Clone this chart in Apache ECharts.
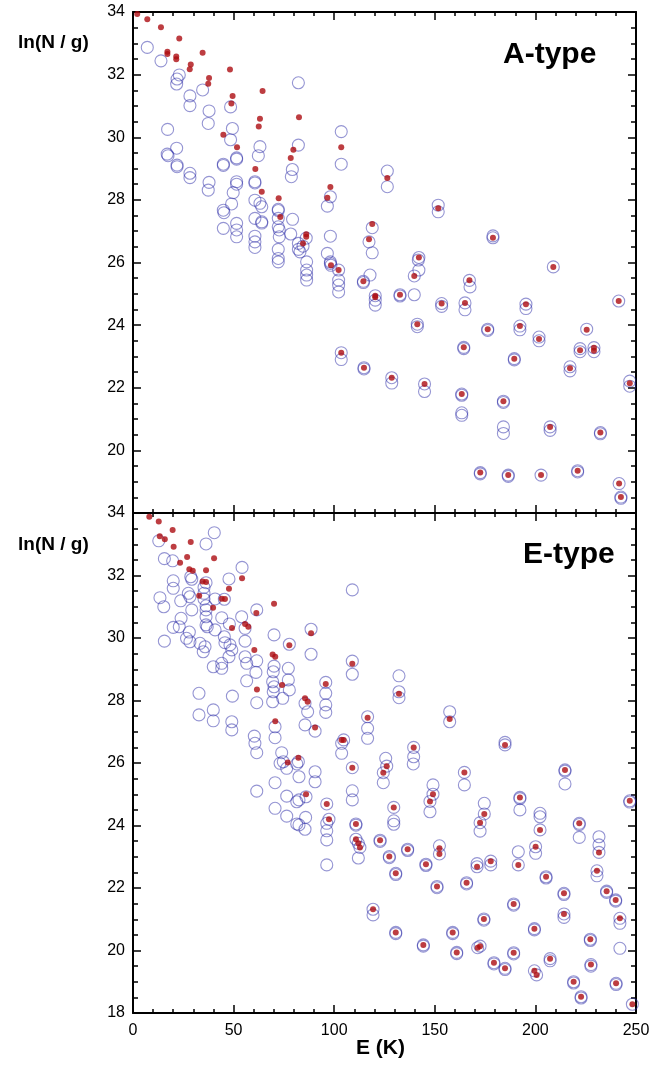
<!DOCTYPE html>
<html>
<head>
<meta charset="utf-8">
<script src="https://cdn.jsdelivr.net/npm/echarts@6/dist/echarts.min.js"></script>
<style>
html,body{margin:0;padding:0;background:#fff;}
#chart{width:667px;height:1075px;}
</style>
</head>
<body>
<div id="chart"></div>
<script>
// ---- Data: [E (K), ln(N/g)] ----
const xTicks = [0, 50, 100, 150, 200, 250];
const yTicks = [18, 20, 22, 24, 26, 28, 30, 32, 34];

const aTypeCircles = [
[7.1,32.87],[13.9,32.44],[23.0,31.99],[21.9,31.86],[21.7,31.70],[28.3,31.32],[28.3,31.01],[34.6,31.51],[37.8,30.84],[37.4,30.44],[48.5,30.97],[49.4,30.28],[48.5,29.92],[17.2,30.25],[21.7,29.65],[17.0,29.46],[17.4,29.41],[21.9,29.11],[21.9,29.06],[28.3,28.85],[28.3,28.71],[37.8,28.56],[37.4,28.31],[44.9,29.14],[44.9,29.10],[51.5,29.34],[51.5,29.30],[51.5,28.58],[51.5,28.50],[49.8,28.23],[49.0,27.87],[44.9,27.67],[45.2,27.59],[44.9,27.09],[51.5,27.25],[51.5,27.04],[51.5,26.82],[60.6,28.58],[60.6,28.54],[60.6,27.99],[63.1,27.89],[64.0,27.78],[60.6,27.41],[64.0,27.30],[64.0,27.26],[60.6,26.84],[60.6,26.66],[60.6,26.48],[63.1,29.70],[62.3,29.41],[79.2,28.97],[78.7,28.74],[82.2,29.75],[82.2,31.74],[72.2,27.70],[72.2,27.66],[72.2,27.41],[72.2,27.14],[72.7,27.04],[72.7,26.82],[72.2,26.42],[72.2,26.13],[72.2,26.02],[79.3,27.38],[78.4,26.91],[82.2,26.61],[82.2,26.42],[103.5,30.18],[103.5,29.14],[98.1,28.10],[96.6,27.80],[126.4,28.92],[126.4,28.42],[151.7,27.83],[151.7,27.62],[118.9,27.11],[117.3,26.66],[118.9,26.31],[86.1,26.78],[84.5,26.52],[83.0,26.34],[98.1,26.84],[96.6,26.29],[142.1,26.16],[98.1,26.02],[98.1,25.97],[86.3,26.02],[86.3,25.76],[86.3,25.60],[86.3,25.44],[98.4,25.91],[102.2,25.76],[102.2,25.44],[102.2,25.28],[102.2,25.06],[114.5,25.40],[114.5,25.36],[117.8,25.60],[120.4,24.94],[120.4,24.80],[120.4,24.64],[132.7,24.97],[132.7,24.93],[139.8,24.97],[139.8,25.57],[142.1,25.76],[141.8,26.08],[141.3,24.03],[141.3,23.95],[153.4,24.69],[153.4,24.60],[165.0,24.71],[165.0,24.49],[167.2,25.43],[167.5,25.22],[103.5,23.12],[103.5,22.90],[114.8,22.64],[114.8,22.60],[128.6,22.32],[128.6,22.15],[144.9,22.12],[144.9,21.88],[164.4,23.29],[164.4,23.25],[163.4,21.80],[163.4,21.76],[163.4,21.20],[163.4,21.12],[208.9,25.86],[195.3,24.67],[195.3,24.53],[241.4,24.77],[176.3,23.87],[176.3,23.83],[192.3,23.97],[192.3,23.85],[201.8,23.62],[201.8,23.50],[225.5,23.87],[222.2,23.25],[222.2,23.15],[229.1,23.28],[229.1,23.15],[189.5,22.93],[189.5,22.89],[217.2,22.67],[217.2,22.54],[246.9,22.21],[246.9,22.05],[184.1,21.57],[184.1,21.53],[184.1,20.75],[184.1,20.54],[207.3,20.75],[207.3,20.64],[232.3,20.57],[232.3,20.53],[172.6,19.29],[172.6,19.25],[186.5,19.21],[186.5,19.17],[202.8,19.21],[221.0,19.35],[221.0,19.31],[241.6,18.94],[242.5,18.51],[242.5,18.47],[178.9,26.79],[178.9,26.85]
];
const aTypeDots = [
[2.1,33.94],[7.1,33.77],[13.9,33.51],[23.0,33.15],[17.1,32.73],[17.1,32.66],[21.5,32.58],[21.5,32.49],[34.6,32.70],[28.7,32.32],[28.2,32.17],[48.2,32.16],[37.8,31.89],[37.4,31.71],[64.4,31.48],[49.5,31.32],[48.9,31.08],[82.5,30.64],[63.1,30.59],[62.5,30.34],[44.9,30.08],[51.7,29.68],[79.7,29.60],[78.4,29.34],[60.8,28.99],[64.0,28.26],[72.4,28.05],[73.2,27.45],[103.5,29.68],[98.1,28.41],[96.6,28.07],[126.4,28.70],[151.7,27.73],[118.9,27.23],[117.3,26.74],[86.1,26.90],[86.1,26.82],[84.5,26.61],[142.1,26.16],[178.9,26.79],[98.4,25.91],[102.2,25.76],[114.5,25.40],[120.4,24.94],[120.4,24.89],[132.7,24.97],[139.8,25.57],[153.4,24.69],[165.0,24.71],[167.2,25.43],[141.3,24.03],[103.5,23.12],[114.8,22.64],[128.6,22.32],[144.9,22.12],[164.4,23.29],[163.4,21.80],[208.9,25.86],[195.3,24.67],[241.4,24.77],[176.3,23.87],[192.3,23.97],[201.8,23.56],[225.5,23.85],[222.2,23.20],[229.1,23.28],[229.1,23.18],[189.5,22.93],[217.2,22.62],[246.9,22.14],[184.1,21.57],[207.3,20.75],[232.3,20.57],[172.6,19.29],[186.5,19.21],[202.8,19.21],[221.0,19.35],[241.6,18.94],[242.5,18.51]
];
const eTypeCircles = [
[40.4,33.37],[36.3,33.01],[12.8,33.11],[15.6,32.54],[19.7,32.47],[54.2,32.26],[28.7,31.96],[29.2,31.88],[20.0,31.83],[20.0,31.59],[36.3,31.77],[35.3,31.62],[47.7,31.89],[13.4,31.29],[15.3,31.00],[23.7,31.19],[27.5,31.43],[28.3,31.32],[35.3,31.43],[35.3,31.25],[40.8,31.25],[45.4,31.24],[36.3,31.03],[36.3,30.90],[36.3,30.68],[29.2,30.90],[23.9,30.63],[20.0,30.34],[23.0,30.36],[44.1,30.65],[36.3,30.42],[36.9,30.36],[47.9,30.45],[54.0,30.68],[55.7,30.31],[61.5,30.90],[40.8,30.26],[28.0,30.19],[15.6,29.90],[26.6,29.99],[28.3,29.88],[33.3,29.83],[35.8,29.72],[34.9,29.56],[45.4,30.04],[45.7,29.85],[48.2,29.78],[49.1,29.62],[47.7,29.40],[55.7,29.90],[70.1,30.10],[77.7,29.80],[55.7,29.40],[56.5,29.19],[61.5,29.27],[61.1,28.90],[39.9,29.08],[44.1,29.19],[44.1,29.03],[56.5,28.63],[70.1,29.10],[69.7,28.92],[69.4,28.60],[70.1,28.44],[69.7,28.28],[77.2,29.03],[77.2,28.66],[77.7,28.34],[74.4,28.07],[69.4,27.96],[61.5,27.93],[49.4,28.14],[32.8,28.23],[32.8,27.54],[39.9,27.70],[39.9,27.35],[49.1,27.32],[49.1,27.06],[70.6,27.16],[70.6,26.81],[60.3,26.86],[60.6,26.63],[61.5,26.33],[73.9,26.33],[74.7,26.04],[82.2,26.04],
[73.1,25.99],[76.4,25.83],[81.4,25.97],[70.6,25.37],[61.5,25.10],[76.4,24.94],[81.4,24.76],[70.6,24.55],[76.4,24.30],[81.4,24.05],
[109.0,31.54],[88.5,30.28],[88.5,29.48],[109.0,29.26],[109.0,28.84],[132.2,28.79],[132.2,28.28],[132.2,28.09],[95.8,28.58],[95.8,28.23],[95.8,27.86],[95.8,27.62],[85.5,27.91],[86.8,27.64],[85.5,27.22],[90.5,27.02],[116.6,27.48],[116.6,27.11],[116.6,26.79],[157.4,27.64],[157.4,27.32],[104.7,26.74],[103.7,26.63],[103.7,26.31],[139.5,26.50],[139.5,26.20],[125.6,26.15],
[109.0,25.85],[126.1,25.90],[124.4,25.69],[124.4,25.37],[139.3,25.97],[164.7,25.70],[164.7,25.30],[82.5,25.56],[90.5,25.72],[90.5,25.40],[82.5,24.82],[86.0,24.92],[96.3,24.69],[96.3,24.07],[96.3,23.83],[96.3,23.54],[85.8,24.26],[85.5,23.88],[82.5,24.02],[97.4,24.20],[109.0,25.11],[109.0,24.82],[129.6,24.58],[129.6,24.15],[129.6,24.04],[149.1,25.30],[149.1,25.00],[147.6,24.77],[147.6,24.44],[110.8,24.05],[110.8,24.01],[110.8,23.56],[112.0,23.43],[112.8,23.30],[112.0,22.96],[96.3,22.74],[122.8,23.53],[122.8,23.49],[127.4,23.01],[127.4,22.97],[136.5,23.24],[136.5,23.20],[152.3,23.35],[152.3,23.09],[145.6,22.76],[145.6,22.72],[130.6,22.47],[130.6,22.43],[151.1,22.05],[151.1,22.01],[165.8,22.17],[165.8,22.13],[119.3,21.32],[119.3,21.14],[130.6,20.58],[130.6,20.54],[144.3,20.18],[144.3,20.14],[158.9,20.58],[158.9,20.54],[160.9,19.94],[160.9,19.90],
[214.7,25.78],[214.7,25.74],[214.7,25.33],[192.3,24.90],[192.3,24.86],[192.3,24.50],[174.6,24.71],[174.6,24.37],[172.5,24.09],[172.5,23.82],[202.3,24.39],[202.3,24.28],[202.3,23.86],[221.8,24.07],[221.8,24.03],[221.8,23.62],[191.5,23.16],[191.5,22.74],[200.1,23.32],[200.1,23.11],[231.6,23.64],[231.6,23.38],[231.6,23.14],[230.6,22.55],[230.6,22.39],[171.0,22.78],[171.0,22.68],[177.8,22.86],[177.8,22.74],[205.3,22.36],[205.3,22.32],[214.2,21.83],[214.2,21.79],[235.4,21.90],[235.4,21.86],[239.9,21.62],[239.9,21.58],[189.2,21.49],[189.2,21.45],[214.2,21.17],[214.2,21.06],[242.0,21.03],[242.0,20.87],[242.0,20.07],[174.4,21.01],[174.4,20.97],[199.5,20.70],[199.5,20.66],[227.3,20.36],[227.3,20.32],[171.3,20.09],[172.5,20.14],[189.2,19.93],[189.2,19.89],[179.4,19.61],[179.4,19.57],[184.9,19.43],[184.9,19.39],[207.3,19.74],[207.3,19.67],[199.5,19.35],[200.6,19.22],[227.6,19.55],[227.6,19.50],[219.0,19.00],[219.0,18.96],[240.1,18.95],[240.1,18.91],[222.7,18.52],[222.7,18.48],[248.2,18.28],[246.9,24.79],[246.9,24.75],[184.9,26.58],[184.9,26.66]
];
const eTypeDots = [
[8.1,33.88],[12.8,33.73],[19.7,33.46],[13.3,33.26],[15.8,33.16],[28.7,33.07],[20.2,32.92],[26.9,32.59],[40.3,32.55],[23.4,32.41],[28.0,32.20],[29.7,32.15],[36.3,32.17],[54.2,31.91],[34.6,31.81],[36.3,31.79],[47.7,31.58],[32.9,31.35],[44.1,31.26],[45.7,31.25],[39.8,30.97],[70.1,31.10],[61.3,30.80],[55.7,30.45],[57.3,30.36],[49.2,30.32],[77.7,29.77],[60.3,29.62],[69.4,29.47],[70.7,29.40],[74.1,28.50],[61.6,28.35],[70.7,27.34],[76.9,26.02],[82.2,26.17],[88.5,30.15],[109.0,29.18],[95.8,28.53],[85.5,28.07],[86.8,27.96],[132.2,28.22],[90.5,27.14],[116.6,27.45],[157.4,27.41],[104.7,26.74],[103.7,26.74],[139.5,26.50],[184.9,26.58],[109.0,25.85],[126.1,25.90],[124.4,25.69],[164.7,25.70],[86.0,25.00],[96.3,24.69],[97.4,24.20],[149.1,25.00],[147.6,24.77],[129.6,24.58],[110.8,24.05],[110.8,23.56],[112.0,23.43],[112.8,23.30],[122.8,23.53],[127.4,23.01],[136.5,23.24],[152.3,23.27],[152.3,23.09],[145.6,22.76],[130.6,22.47],[151.1,22.05],[165.8,22.17],[119.3,21.32],[130.6,20.58],[144.3,20.18],[158.9,20.58],[160.9,19.94],[214.7,25.78],[246.9,24.79],[192.3,24.90],[174.6,24.37],[172.5,24.09],[202.3,23.86],[221.8,24.07],[200.1,23.32],[231.6,23.14],[171.0,22.68],[177.8,22.86],[191.5,22.74],[230.6,22.55],[205.3,22.36],[214.2,21.83],[235.4,21.90],[239.9,21.62],[189.2,21.49],[214.2,21.17],[242.0,21.03],[174.4,21.01],[199.5,20.70],[227.3,20.36],[171.3,20.09],[172.5,20.14],[189.2,19.93],[179.4,19.61],[184.9,19.43],[207.3,19.74],[199.5,19.35],[200.6,19.22],[227.6,19.55],[219.0,19.00],[240.1,18.95],[222.7,18.52],[248.2,18.28]
];

// ---- Chart ----
const FONT = '"Liberation Sans", Arial, Helvetica, sans-serif';
const xMin = xTicks[0], xMax = xTicks[xTicks.length - 1];
const yMin = yTicks[0], yMax = yTicks[yTicks.length - 1];
const lineStyle = { color: '#000', width: 2 };

function xAx(grid, pos, showLabel) {
  return {
    type: 'value', gridIndex: grid, position: pos, min: xMin, max: xMax, interval: 50,
    axisLine: { show: true, onZero: false, lineStyle },
    axisTick: { show: true, inside: true, length: 8, lineStyle: { color: '#000', width: 1.5 } },
    minorTick: { show: true, splitNumber: 5, length: 4, lineStyle: { color: '#000', width: 1.5 } },
    splitLine: { show: false }, minorSplitLine: { show: false },
    axisLabel: { show: showLabel, color: '#000', fontSize: 16, fontFamily: FONT, margin: 10 }
  };
}
function yAx(grid, pos, showLabel, hideMin) {
  return {
    type: 'value', gridIndex: grid, position: pos, min: yMin, max: yMax, interval: 2,
    axisLine: { show: true, onZero: false, lineStyle },
    axisTick: { show: true, inside: true, length: 8, lineStyle: { color: '#000', width: 1.5 } },
    minorTick: { show: true, splitNumber: 4, length: 5, lineStyle: { color: '#000', width: 1.5 } },
    splitLine: { show: false }, minorSplitLine: { show: false },
    axisLabel: {
      show: showLabel, color: '#000', fontSize: 16, fontFamily: FONT, margin: 8,
      formatter: v => (hideMin && v === yMin) ? '' : String(v)
    }
  };
}

const circleStyle = { color: 'rgba(0,0,0,0)', borderColor: 'rgba(40,40,165,0.62)', borderWidth: 1.1 };
const dotStyle = { color: '#ad0c12' };

const option = {
  animation: false,
  backgroundColor: '#fff',
  grid: [
    { left: 133, top: 12, width: 503, height: 501 },
    { left: 133, top: 513, width: 503, height: 500 }
  ],
  xAxis: [xAx(0, 'bottom', false), xAx(0, 'top', false), xAx(1, 'bottom', true), xAx(1, 'top', false)],
  yAxis: [yAx(0, 'left', true, true), yAx(0, 'right', false, false), yAx(1, 'left', true, false), yAx(1, 'right', false, false)],
  series: [
    { type: 'scatter', xAxisIndex: 0, yAxisIndex: 0, data: aTypeCircles, symbol: 'circle', symbolSize: 12, itemStyle: circleStyle, z: 2, silent: true },
    { type: 'scatter', xAxisIndex: 0, yAxisIndex: 0, data: aTypeDots, symbol: 'circle', symbolSize: 6, itemStyle: dotStyle, z: 3, silent: true },
    { type: 'scatter', xAxisIndex: 2, yAxisIndex: 2, data: eTypeCircles, symbol: 'circle', symbolSize: 12, itemStyle: circleStyle, z: 2, silent: true },
    { type: 'scatter', xAxisIndex: 2, yAxisIndex: 2, data: eTypeDots, symbol: 'circle', symbolSize: 6, itemStyle: dotStyle, z: 3, silent: true }
  ],
  graphic: [
    { type: 'text', left: 18, top: 33, style: { text: 'ln(N / g)', fontSize: 19, fontWeight: 'bold', fontFamily: FONT, fill: '#000' } },
    { type: 'text', left: 18, top: 535, style: { text: 'ln(N / g)', fontSize: 19, fontWeight: 'bold', fontFamily: FONT, fill: '#000' } },
    { type: 'text', left: 503, top: 40, style: { text: 'A-type', fontSize: 30, fontWeight: 'bold', fontFamily: FONT, fill: '#000' } },
    { type: 'text', left: 523, top: 540, style: { text: 'E-type', fontSize: 30, fontWeight: 'bold', fontFamily: FONT, fill: '#000' } },
    { type: 'text', left: 356, top: 1038, style: { text: 'E (K)', fontSize: 21, fontWeight: 'bold', fontFamily: FONT, fill: '#000' } }
  ]
};

const chart = echarts.init(document.getElementById('chart'), null, { renderer: 'canvas' });
chart.setOption(option);
</script>
</body>
</html>
